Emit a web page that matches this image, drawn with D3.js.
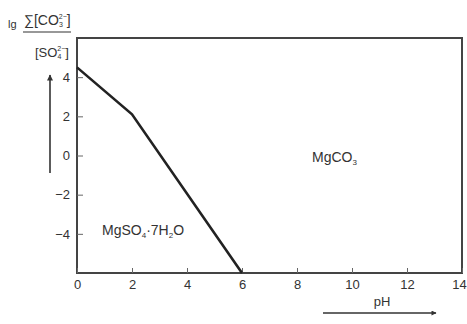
<!DOCTYPE html>
<html>
<head>
<meta charset="utf-8">
<script src="https://cdn.jsdelivr.net/npm/d3@7"></script>
<style>
  body { margin: 0; background: #fff; }
  svg { font-family: "Liberation Sans", Arial, sans-serif; }
</style>
</head>
<body>
<div id="chart"></div>
<script>
const xTicks = [0, 2, 4, 6, 8, 10, 12, 14];
const yTicks = [4, 2, 0, -2, -4];
const boundaryPH = [0, 2, 6];
const boundaryLg = [4.5, 2.1, -6];

const width = 467;
const height = 324;
const margin = { top: 38, right: 5, bottom: 51, left: 77 };

const svg = d3.select("#chart")
    .append("svg")
    .attr("width", width)
    .attr("height", height);

const x = d3.scaleLinear().domain([0, 14]).range([margin.left, width - margin.right]);
const y = d3.scaleLinear().domain([-6, 6]).range([height - margin.bottom, margin.top]);

const ink = "#333";

// frame
svg.append("rect")
    .attr("x", x(0))
    .attr("y", y(6))
    .attr("width", x(14) - x(0))
    .attr("height", y(-6) - y(6))
    .attr("fill", "none")
    .attr("stroke", "#444")
    .attr("stroke-width", 2);

// x axis, ticks pointing inward
const xAxis = svg.append("g")
    .attr("transform", `translate(0,${y(-6)})`)
    .call(d3.axisBottom(x).tickValues(xTicks).tickSizeInner(-5).tickSizeOuter(0).tickPadding(7));
xAxis.select(".domain").remove();
xAxis.selectAll("line").attr("stroke", "#666");
xAxis.selectAll("text")
    .attr("font-size", 13)
    .attr("fill", ink)
    .attr("dx", d => d === 14 ? -3 : 0);

// y axis
const yAxis = svg.append("g")
    .attr("transform", `translate(${x(0)},0)`)
    .call(d3.axisLeft(y).tickValues(yTicks).tickSizeInner(-6).tickSizeOuter(0).tickPadding(7));
yAxis.select(".domain").remove();
yAxis.selectAll("line").attr("stroke", "#666");
yAxis.selectAll("text").attr("font-size", 13).attr("fill", ink);

// phase boundary
const line = d3.line()
    .x((d, i) => x(boundaryPH[i]))
    .y((d, i) => y(boundaryLg[i]));

svg.append("path")
    .datum(boundaryPH)
    .attr("d", line)
    .attr("fill", "none")
    .attr("stroke", "#222")
    .attr("stroke-width", 2.6);

// region labels
const mgco3 = svg.append("text")
    .attr("x", 312)
    .attr("y", 162)
    .attr("font-size", 14)
    .attr("fill", ink);
mgco3.append("tspan").text("MgCO");
mgco3.append("tspan").attr("font-size", 8).attr("dy", 3).text("3");

const mgso4 = svg.append("text")
    .attr("x", 102)
    .attr("y", 235)
    .attr("font-size", 14)
    .attr("fill", ink);
mgso4.append("tspan").text("MgSO");
mgso4.append("tspan").attr("font-size", 8).attr("dy", 3).text("4");
mgso4.append("tspan").attr("dy", -3).text("\u00b77H");
mgso4.append("tspan").attr("font-size", 8).attr("dy", 3).text("2");
mgso4.append("tspan").attr("dy", -3).text("O");

// y label: lg ( Σ[CO3 2-] / [SO4 2-] )
svg.append("text")
    .attr("x", 8)
    .attr("y", 28)
    .attr("font-size", 11)
    .attr("fill", ink)
    .text("lg");

const num = svg.append("text")
    .attr("x", 24)
    .attr("y", 25)
    .attr("font-size", 14)
    .attr("fill", ink);
num.append("tspan").text("\u2211[CO");
num.append("tspan").attr("font-size", 7).attr("dy", 2).text("3");
num.append("tspan").attr("font-size", 7).attr("dx", -4).attr("dy", -8).text("2\u2212");
num.append("tspan").attr("dy", 6).text("]");

svg.append("line")
    .attr("x1", 23).attr("x2", 71)
    .attr("y1", 32).attr("y2", 32)
    .attr("stroke", ink)
    .attr("stroke-width", 1.2);

const den = svg.append("text")
    .attr("x", 35)
    .attr("y", 57)
    .attr("font-size", 13)
    .attr("fill", ink);
den.append("tspan").text("[SO");
den.append("tspan").attr("font-size", 7).attr("dy", 2).text("4");
den.append("tspan").attr("font-size", 7).attr("dx", -4).attr("dy", -8).text("2\u2212");
den.append("tspan").attr("dy", 6).text("]");

// arrows
const defs = svg.append("defs");
defs.append("marker")
    .attr("id", "head")
    .attr("viewBox", "0 0 10 10")
    .attr("refX", 9)
    .attr("refY", 5)
    .attr("markerWidth", 7)
    .attr("markerHeight", 6)
    .attr("markerUnits", "userSpaceOnUse")
    .attr("orient", "auto")
    .append("path")
    .attr("d", "M0,0L10,5L0,10Z")
    .attr("fill", "#333");

defs.append("marker")
    .attr("id", "headx")
    .attr("viewBox", "0 0 10 10")
    .attr("refX", 9)
    .attr("refY", 5)
    .attr("markerWidth", 12)
    .attr("markerHeight", 5)
    .attr("markerUnits", "userSpaceOnUse")
    .attr("orient", "auto")
    .append("path")
    .attr("d", "M0,0L10,5L0,10Z")
    .attr("fill", "#333");

svg.append("line")
    .attr("x1", 50).attr("y1", 173)
    .attr("x2", 50).attr("y2", 75)
    .attr("stroke", "#333")
    .attr("stroke-width", 1.6)
    .attr("marker-end", "url(#head)");

svg.append("line")
    .attr("x1", 323).attr("y1", 313)
    .attr("x2", 436).attr("y2", 313)
    .attr("stroke", "#333")
    .attr("stroke-width", 1.4)
    .attr("marker-end", "url(#headx)");

svg.append("text")
    .attr("x", 382)
    .attr("y", 306)
    .attr("text-anchor", "middle")
    .attr("font-size", 13)
    .attr("fill", ink)
    .text("pH");
</script>
</body>
</html>
